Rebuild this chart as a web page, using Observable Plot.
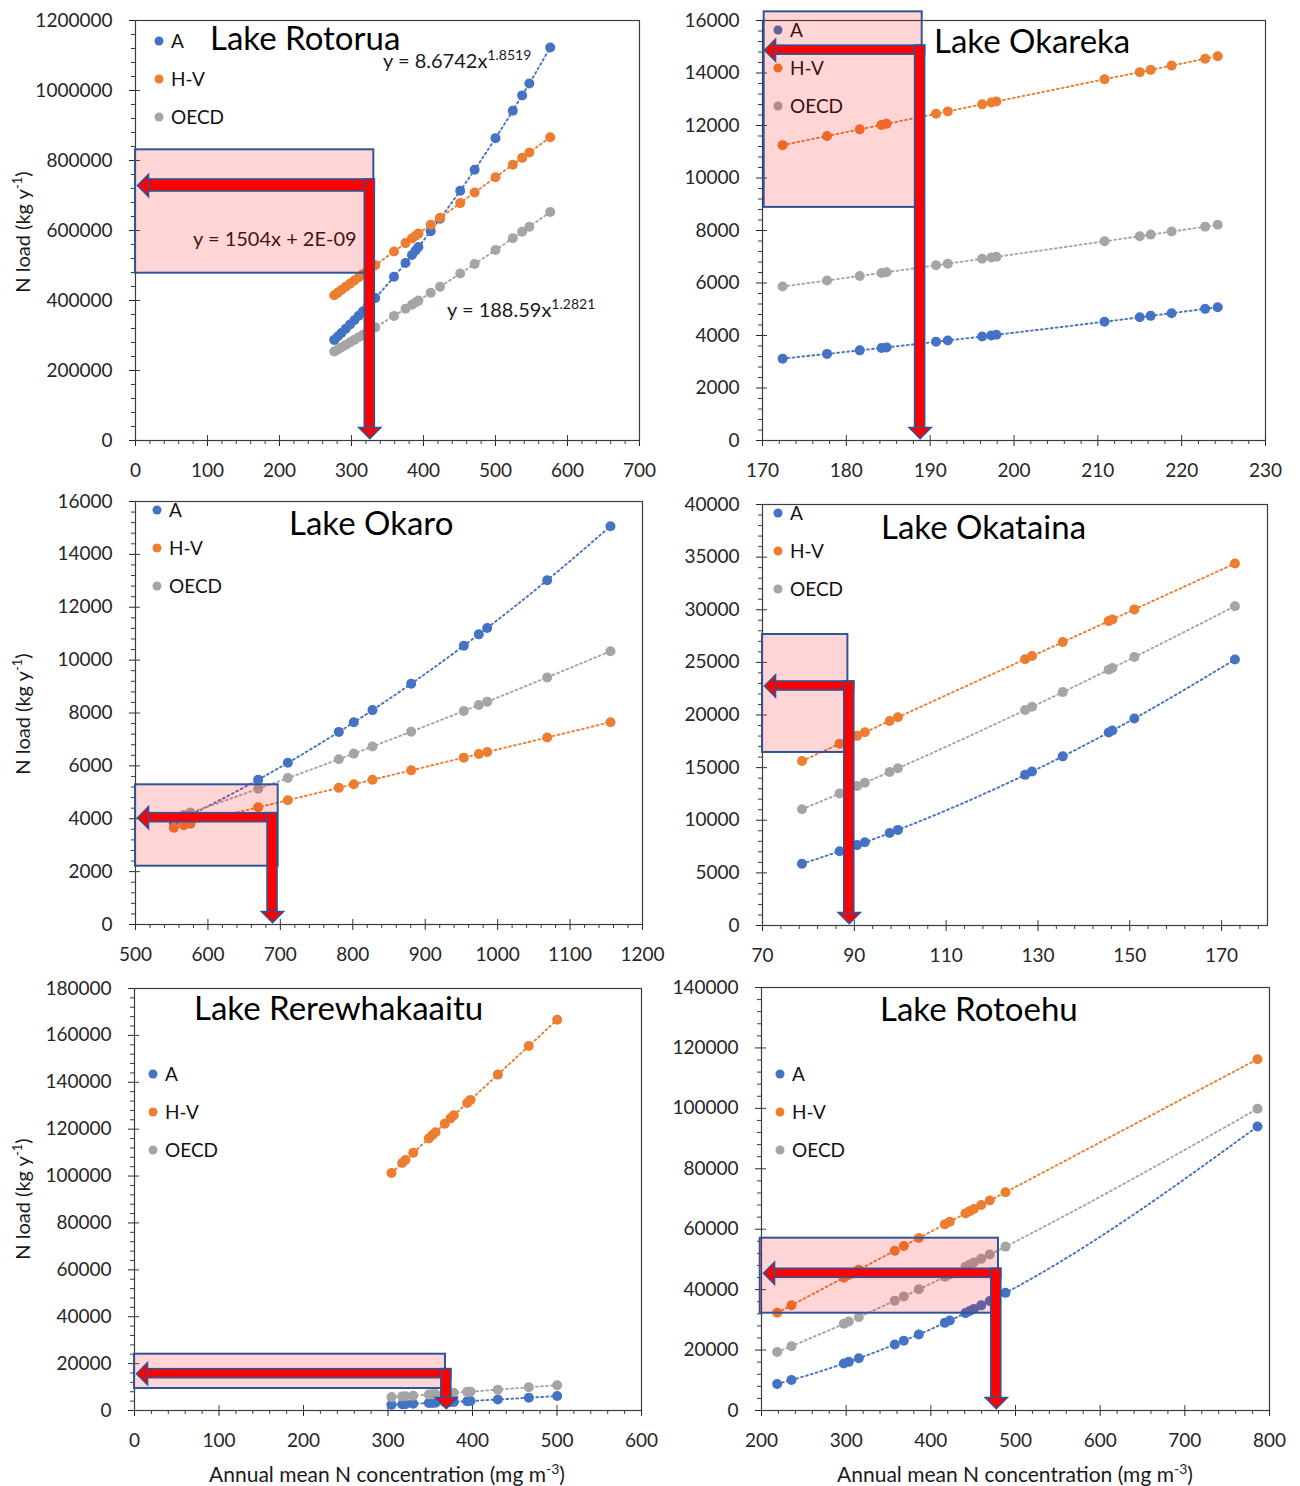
<!DOCTYPE html>
<html>
<head>
<meta charset="utf-8">
<script src="https://cdn.jsdelivr.net/npm/d3@7"></script>
<script src="https://cdn.jsdelivr.net/npm/@observablehq/plot@0.6"></script>
<style>
  body { margin: 0; background: #fff; }
  #page { position: relative; width: 1300px; height: 1486px; overflow: hidden; font-family: Lato, "Open Sans", sans-serif; color: #000; background: #fff; }
  #under { position: absolute; left: 0; top: 0; width: 1300px; height: 1486px; z-index: 0; }
  .panel { position: absolute; z-index: 1; }
  .txt { position: absolute; white-space: nowrap; line-height: 1; transform: translateY(-53%); }
  .title { font-size: 33px; }
  .leg { font-size: 19px; }
  .eq { font-size: 20px; color: #1a1a1a; }
  .sup { font-size: 14px; position: relative; top: -8px; }
  .ldot { position: absolute; width: 9px; height: 9px; border-radius: 50%; transform: translate(-50%, -50%); }
  .axt { position: absolute; white-space: nowrap; line-height: 1; font-size: 21px; color: #1a1a1a; }
</style>
</head>
<body>
<div id="page"><div id="under"></div></div>
<script>
// ---- Lakes and series ----
const lakes = ["Lake Rotorua", "Lake Okareka", "Lake Okaro", "Lake Okataina", "Lake Rerewhakaaitu", "Lake Rotoehu"];
const seriesNames = ["A", "H-V", "OECD"];

// Annual mean N concentration (mg m-3) for each lake
const rotoruaConc = [276, 281, 286, 292, 298, 304, 310, 316, 323, 333, 359, 375, 384, 389, 393, 410, 423, 451, 471, 500, 524, 537, 547, 576];
const okarekaConc = [172.4, 177.7, 181.6, 184.2, 184.8, 190.7, 192.1, 196.2, 197.3, 197.9, 210.8, 215.0, 216.3, 218.8, 222.8, 224.3];
const okaroConc = [552.9, 566.7, 575.9, 669.4, 710.3, 780.7, 801.4, 827.2, 880.6, 953.3, 974.0, 985.6, 1068.4, 1155.8];
const okatainaConc = [78.6, 86.8, 90.6, 92.3, 97.7, 99.5, 127.2, 128.7, 135.4, 145.4, 146.2, 151.0, 172.9];
const rerewhakaaituConc = [304.1, 316.8, 320.7, 329.8, 348.3, 352.3, 356.2, 367.2, 374.0, 377.9, 393.7, 397.6, 430.0, 466.6, 500.2];
const rotoehuConc = [218.5, 235.4, 297.2, 303.1, 314.9, 357.4, 368.1, 385.8, 416.5, 422.4, 440.9, 446.0, 450.8, 459.5, 469.6, 488.2, 785.8];

// N load (kg y-1), model A
const rotoruaA = [287400, 297200, 307000, 319100, 331300, 343700, 356400, 369300, 384600, 406900, 467700, 507000, 529800, 542700, 553000, 598200, 633800, 713600, 773400, 863900, 942300, 986000, 1020200, 1122700];
const okarekaA = [3119, 3299, 3434, 3526, 3547, 3760, 3811, 3963, 4004, 4027, 4526, 4695, 4748, 4850, 5015, 5078];
const okaroA = [3846, 4025, 4147, 5479, 6116, 7285, 7647, 8109, 9105, 10546, 10974, 11217, 13024, 15066];
const okatainaA = [5870, 7054, 7637, 7904, 8782, 9084, 14314, 14628, 16071, 18337, 18524, 19667, 25273];
const rerewhakaaituA = [2467, 2661, 2722, 2867, 3172, 3240, 3306, 3498, 3619, 3689, 3979, 4053, 4686, 5451, 6200];
const rotoehuA = [8784, 10086, 15527, 16102, 17283, 21852, 23079, 25177, 29010, 29775, 32235, 32931, 33590, 34802, 36230, 38933, 94000];

// N load (kg y-1), model H-V
const rotoruaHV = [415100, 422600, 430100, 439200, 448200, 457200, 466200, 475300, 485800, 500800, 539900, 564000, 577500, 585100, 591100, 616600, 636200, 678300, 708400, 752000, 788100, 807600, 822700, 866300];
const okarekaHV = [11252, 11598, 11853, 12023, 12062, 12447, 12538, 12806, 12878, 12917, 13759, 14033, 14118, 14281, 14542, 14640];
const okaroHV = [3661, 3752, 3813, 4432, 4703, 5169, 5306, 5477, 5831, 6312, 6449, 6526, 7074, 7652];
const okatainaHV = [15634, 17265, 18020, 18358, 19433, 19791, 25300, 25598, 26931, 28920, 29079, 30034, 34390];
const rerewhakaaituHV = [101326, 105558, 106857, 109889, 116054, 117386, 118686, 122351, 124617, 125916, 131181, 132480, 143276, 155471, 166667];
const rotoehuHV = [32329, 34830, 43974, 44847, 46593, 52881, 54464, 57083, 61625, 62498, 65236, 65990, 66700, 67988, 69482, 72234, 116267];

// N load (kg y-1), model OECD
const rotoruaOECD = [254100, 260000, 266000, 273200, 280400, 287600, 294900, 302200, 310900, 323300, 356000, 376400, 388100, 394600, 399700, 422100, 439300, 477000, 504200, 544300, 578100, 596500, 610800, 652700];
const okarekaOECD = [5864, 6096, 6268, 6384, 6410, 6674, 6736, 6921, 6971, 6998, 7588, 7783, 7843, 7960, 8147, 8217];
const okaroOECD = [4017, 4146, 4232, 5133, 5538, 6251, 6464, 6732, 7295, 8076, 8302, 8429, 9347, 10338];
const okatainaOECD = [11042, 12541, 13249, 13568, 14595, 14940, 20470, 20780, 22176, 24299, 24470, 25504, 30340];
const rerewhakaaituOECD = [5706, 6013, 6108, 6332, 6790, 6890, 6988, 7266, 7439, 7539, 7945, 8046, 8897, 9879, 10800];
const rotoehuOECD = [19347, 21288, 28705, 29438, 30916, 36360, 37762, 40110, 44247, 45051, 47596, 48303, 48971, 50187, 51605, 54240, 99850];

const concentration = [rotoruaConc, okarekaConc, okaroConc, okatainaConc, rerewhakaaituConc, rotoehuConc];
const loadA = [rotoruaA, okarekaA, okaroA, okatainaA, rerewhakaaituA, rotoehuA];
const loadHV = [rotoruaHV, okarekaHV, okaroHV, okatainaHV, rerewhakaaituHV, rotoehuHV];
const loadOECD = [rotoruaOECD, okarekaOECD, okaroOECD, okatainaOECD, rerewhakaaituOECD, rotoehuOECD];

// Axis extents and tick values
const xDomain = [[0, 700], [170, 230], [500, 1200], [70, 180], [0, 600], [200, 800]];
const yDomain = [[0, 1200000], [0, 16000], [0, 16000], [0, 40000], [0, 180000], [0, 140000]];
const xTicks = [
  [0, 100, 200, 300, 400, 500, 600, 700],
  [170, 180, 190, 200, 210, 220, 230],
  [500, 600, 700, 800, 900, 1000, 1100, 1200],
  [70, 90, 110, 130, 150, 170],
  [0, 100, 200, 300, 400, 500, 600],
  [200, 300, 400, 500, 600, 700, 800]
];
const yTicks = [
  [0, 200000, 400000, 600000, 800000, 1000000, 1200000],
  [0, 2000, 4000, 6000, 8000, 10000, 12000, 14000, 16000],
  [0, 2000, 4000, 6000, 8000, 10000, 12000, 14000, 16000],
  [0, 5000, 10000, 15000, 20000, 25000, 30000, 35000, 40000],
  [0, 20000, 40000, 60000, 80000, 100000, 120000, 140000, 160000, 180000],
  [0, 20000, 40000, 60000, 80000, 100000, 120000, 140000]
];
const xMinorStep = [20, 2, 20, 4, 20, 20];
const yMinorStep = [40000, 400, 400, 1000, 4000, 4000];

// Highlighted range and read-off arrows (data units)
const boxX0 = [0, 170.2, 500, 70, 0, 198.5];
const boxX1 = [331, 189.05, 697, 88.6, 368, 479.9];
const boxY0 = [478000, 8880, 2205, 16440, 9380, 32200];
const boxY1 = [830500, 16330, 5284, 27650, 24015, 57030];
const arrowX = [325.4, 188.8, 689.2, 88.9, 369, 477.3];
const arrowY = [728600, 14870, 4040, 22755, 15700, 45410];

// Fitted-equation labels (Lake Rotorua)
const eqMain = ["y = 8.6742x", "y = 1504x + 2E-09", "y = 188.59x"];
const eqPower = ["1.8519", "", "1.2821"];

// ---- Styling and layout ----
const colors = ["#4472C4", "#ED7D31", "#A5A5A5"];
const navy = "#2F5597";
const axisInk = "#3c3c3c";
const frames = [
  {left: 0,   top: 0,   w: 650, h: 488, mL: 135, mR: 11, mT: 20, mB: 48},
  {left: 650, top: 0,   w: 650, h: 488, mL: 112, mR: 35, mT: 20, mB: 48},
  {left: 0,   top: 488, w: 650, h: 488, mL: 135, mR: 8,  mT: 13, mB: 52},
  {left: 650, top: 488, w: 650, h: 488, mL: 112, mR: 33, mT: 16, mB: 51},
  {left: 0,   top: 976, w: 650, h: 510, mL: 134, mR: 9,  mT: 12, mB: 76},
  {left: 650, top: 976, w: 650, h: 510, mL: 111, mR: 31, mT: 11, mB: 76}
];
const titlePos = [[210, 38], [934, 41], [289, 523], [881, 527], [194, 1008], [880, 1009]];
const legendPos = [[159, 41], [778, 30], [157, 510], [778, 513], [153, 1074], [780, 1074]];
const legendGap = 38.2;
const eqPos = [[383, 61], [193, 239], [447, 310]];
const hHalf = [6, 4.5, 4.5, 4.5, 4.5, 4.5];
const vHalf = 5;
const headLen = 11;

// Arrowheads whose tip sits on the anchor point
const headDown = {draw(ctx) { ctx.moveTo(-11, -headLen); ctx.lineTo(11, -headLen); ctx.lineTo(0, 0); ctx.closePath(); }};
const headLeft = {draw(ctx) { ctx.moveTo(headLen, -11); ctx.lineTo(headLen, 11); ctx.lineTo(0, 0); ctx.closePath(); }};

const page = document.getElementById("page");
const under = document.getElementById("under");

function addText(cls, x, y, html, color) {
  const d = document.createElement("div");
  d.className = "txt " + cls;
  d.style.left = x + "px";
  d.style.top = y + "px";
  if (color) d.style.color = color;
  d.innerHTML = html;
  under.appendChild(d);
  return d;
}

lakes.forEach((lake, i) => {
  const f = frames[i];
  const xMin = xDomain[i][0];
  const yMin = yDomain[i][0];
  const seriesVals = [loadA[i], loadHV[i], loadOECD[i]];
  const pts = seriesVals.map(vals => concentration[i].map((c, j) => ({c, v: vals[j]})));
  const minorX = d3.range(xDomain[i][0], xDomain[i][1] + 1e-9, xMinorStep[i]).filter(t => !xTicks[i].includes(t));
  const minorY = d3.range(yDomain[i][0], yDomain[i][1] + 1e-9, yMinorStep[i]).filter(t => !yTicks[i].includes(t));
  const box = [{x1: boxX0[i], x2: boxX1[i], y1: boxY0[i], y2: boxY1[i]}];
  const arrow = [{x0: xMin, y0: yMin, x: arrowX[i], y: arrowY[i]}];

  const plot = Plot.plot({
    width: f.w,
    height: f.h,
    marginLeft: f.mL,
    marginRight: f.mR,
    marginTop: f.mT,
    marginBottom: f.mB,
    style: {fontFamily: "Lato, 'Open Sans', sans-serif", fontSize: "19px", background: "none", overflow: "visible", color: "#262626"},
    x: {domain: xDomain[i], ticks: xTicks[i], tickFormat: d => String(d), tickSize: 6, tickPadding: 17, label: null},
    y: {domain: yDomain[i], ticks: yTicks[i], tickFormat: d => String(d), tickSize: 6, tickPadding: 17, label: null},
    marks: [
      Plot.frame({stroke: axisInk, strokeWidth: 1.2}),
      // minor ticks outside the axes, major ticks crossing into the frame
      Plot.ruleX(minorX, {x: d => d, y1: () => yMin, y2: () => yMin, insetBottom: -4, stroke: axisInk}),
      Plot.ruleY(minorY, {y: d => d, x1: () => xMin, x2: () => xMin, insetLeft: -4, stroke: axisInk}),
      Plot.ruleX(xTicks[i], {x: d => d, y1: () => yMin, y2: () => yMin, insetTop: -5, stroke: axisInk}),
      Plot.ruleY(yTicks[i], {y: d => d, x1: () => xMin, x2: () => xMin, insetRight: -5, stroke: axisInk}),
      // dotted trend lines, then the markers
      ...pts.map((p, s) => Plot.line(p, {x: "c", y: "v", stroke: colors[s], strokeWidth: 1.9, strokeDasharray: "1.8,3.2", curve: "monotone-x"})),
      ...pts.map((p, s) => Plot.dot(p, {x: "c", y: "v", r: 5, fill: colors[s]})),
      // translucent highlight box
      Plot.rect(box, {x1: "x1", x2: "x2", y1: "y1", y2: "y2", fill: "#ff0000", fillOpacity: 0.165, stroke: navy, strokeWidth: 2}),
      // arrow to the load axis
      Plot.rect(arrow, {x1: "x0", x2: "x", y1: "y", y2: "y", insetLeft: headLen - 1, insetRight: -vHalf, insetTop: -hHalf[i], insetBottom: -hHalf[i], fill: "#ff0000", stroke: navy, strokeWidth: 1.6}),
      Plot.dot(arrow, {x: "x0", y: "y", dx: 2, symbol: headLeft, fill: "#ff0000", stroke: navy, strokeWidth: 1.6}),
      // arrow to the concentration axis
      Plot.rect(arrow, {x1: "x", x2: "x", y1: "y0", y2: "y", insetLeft: -vHalf, insetRight: -vHalf, insetTop: -hHalf[i], insetBottom: headLen - 1, fill: "#ff0000", stroke: navy, strokeWidth: 1.6}),
      Plot.dot(arrow, {x: "x", y: "y0", dy: -2, symbol: headDown, fill: "#ff0000", stroke: navy, strokeWidth: 1.6})
    ]
  });

  const holder = document.createElement("div");
  holder.className = "panel";
  holder.style.left = f.left + "px";
  holder.style.top = f.top + "px";
  holder.style.width = f.w + "px";
  holder.style.height = f.h + "px";
  holder.appendChild(plot);
  page.appendChild(holder);

  // panel title
  addText("title", titlePos[i][0], titlePos[i][1], lake);
  // in-plot legend
  seriesNames.forEach((name, s) => {
    const [lx, ly] = legendPos[i];
    const dot = document.createElement("div");
    dot.className = "ldot";
    dot.style.left = lx + "px";
    dot.style.top = (ly + s * legendGap) + "px";
    dot.style.background = colors[s];
    under.appendChild(dot);
    addText("leg", lx + 12, ly + s * legendGap, name, "#111");
  });
});

// fitted equations on the Rotorua panel
eqMain.forEach((t, k) => {
  const html = t + (eqPower[k] ? '<span class="sup">' + eqPower[k] + '</span>' : "");
  addText("eq", eqPos[k][0], eqPos[k][1], html);
});

// axis titles
const yTitleCenters = [232, 714, 1199];
yTitleCenters.forEach(cy => {
  const d = document.createElement("div");
  d.className = "axt";
  d.style.left = "22px";
  d.style.top = cy + "px";
  d.style.transform = "translate(-50%, -50%) rotate(-90deg)";
  d.style.fontSize = "20px";
  d.innerHTML = 'N load (kg y<span style="font-size:13px;position:relative;top:-8px">-1</span>)';
  page.appendChild(d);
});
const xTitleCenters = [387, 1015];
xTitleCenters.forEach(cx => {
  const d = document.createElement("div");
  d.className = "axt";
  d.style.left = cx + "px";
  d.style.top = "1473px";
  d.style.transform = "translate(-50%, -50%)";
  d.innerHTML = 'Annual mean N concentration (mg m<span style="font-size:14px;position:relative;top:-8px">-3</span>)';
  page.appendChild(d);
});
</script>
</body>
</html>
